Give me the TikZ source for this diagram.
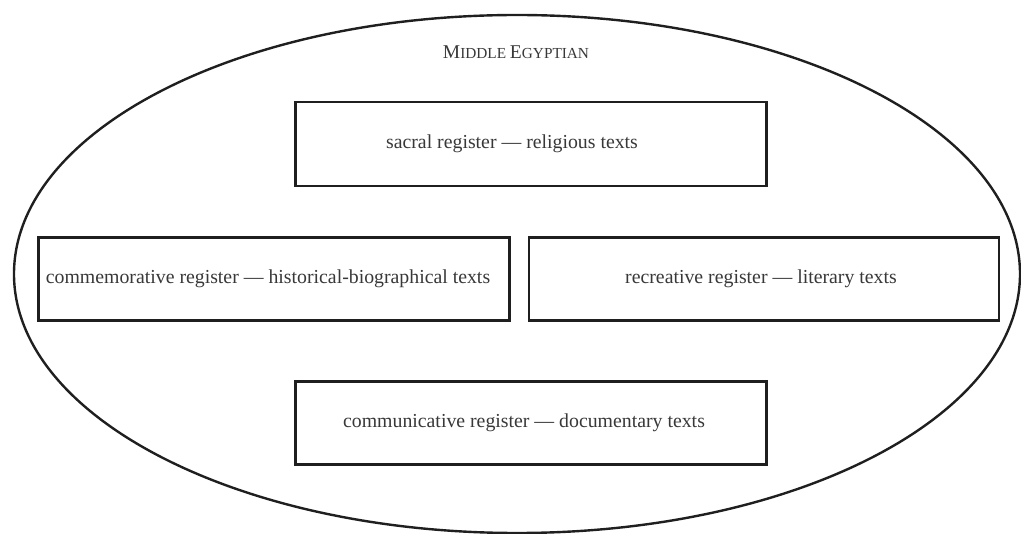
\documentclass[tikz,border=0pt]{standalone}
\usepackage{fontspec}
\setmainfont{Liberation Serif}
\begin{document}
\begin{tikzpicture}[x=1pt,y=-1pt,
  reg/.style={draw=black!88,line width=2.6pt,rectangle,inner sep=0pt},
  regtext/.style={text=black!78,font=\fontsize{19.8}{22}\selectfont},
  outer/.style={draw=black!88,line width=2.4pt}]
\useasboundingbox (0,0) rectangle (1021,534);
\draw[outer] (517,274) ellipse [x radius=503, y radius=259];
\node[text=black!78] (title) at (516,52) {{\fontsize{19.5}{22}\selectfont M}{\fontsize{15.3}{17}\selectfont IDDLE }{\fontsize{19.5}{22}\selectfont E}{\fontsize{15.3}{17}\selectfont GYPTIAN}};
\node[reg,minimum width=471pt,minimum height=84pt,label={[regtext,xshift=-19pt]center:sacral register --- religious texts}] (sacral) at (531,144) {};
\node[reg,minimum width=471pt,minimum height=83pt,label={[regtext,xshift=-6pt]center:commemorative register --- historical-biographical texts}] (comm) at (274,279) {};
\node[reg,minimum width=470pt,minimum height=83pt,label={[regtext,xshift=-3pt]center:recreative register --- literary texts}] (recr) at (764,279) {};
\node[reg,minimum width=471pt,minimum height=83pt,label={[regtext,xshift=-7pt]center:communicative register --- documentary texts}] (commu) at (531,423) {};
\end{tikzpicture}
\end{document}
